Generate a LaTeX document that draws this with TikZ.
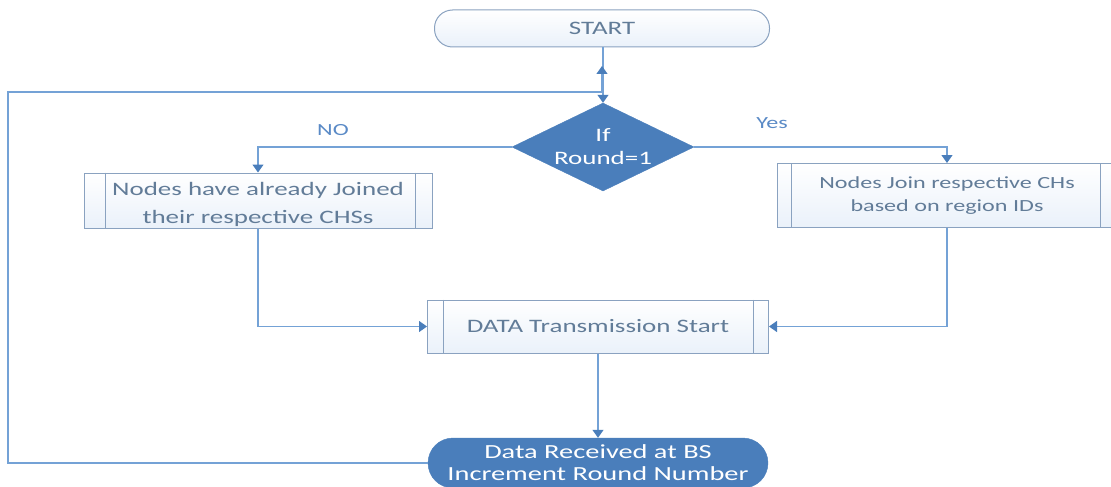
\documentclass[tikz,border=0pt]{standalone}
\usepackage{fontspec}
\setmainfont{Carlito}[FakeStretch=1.42]
\usetikzlibrary{shapes.geometric,arrows.meta}
\definecolor{lineblue}{HTML}{74A2D6}
\definecolor{tipblue}{HTML}{4A7EBB}
\definecolor{fillblue}{HTML}{4A7EBB}
\definecolor{boxborder}{HTML}{8AA2C0}
\definecolor{boxtext}{HTML}{627C98}
\definecolor{labelblue}{HTML}{5A8AC6}
\definecolor{boxbottom}{HTML}{EAF1FA}
\begin{document}
\begin{tikzpicture}[x=1pt,y=-1pt,
  conn/.style={draw=lineblue, line width=1.2pt, -{Triangle[width=11pt,length=8pt,color=tipblue]}},
  procbox/.style={draw=boxborder, line width=1pt, top color=white, bottom color=boxbottom,
    font=\fontsize{19}{28}\selectfont, text=boxtext, align=center, inner sep=0pt},
  boxtextstyle/.style={font=\fontsize{19}{28}\selectfont, text=boxtext, align=center, inner sep=0pt},
  termlight/.style={draw=boxborder, line width=1pt, rounded corners=18pt, top color=white, bottom color=boxbottom,
    font=\fontsize{19}{24}\selectfont, text=boxtext, align=center, inner sep=0pt},
  termdark/.style={draw=fillblue, fill=fillblue, rounded corners=25pt, text=white,
    font=\fontsize{20}{22}\selectfont, align=center, inner sep=0pt},
  decision/.style={diamond, draw=fillblue, fill=fillblue, inner sep=0pt, minimum width=182pt, minimum height=88pt, aspect=2.07},
  branchlabel/.style={font=\fontsize{17}{20}\selectfont, text=labelblue, inner sep=0pt}
]
\useasboundingbox (0,0) rectangle (1111,487);

\node[termlight, minimum width=335pt, minimum height=37pt] (start) at (602,28.5) {START};
\node[decision, label={[font=\fontsize{19}{23}\selectfont, text=white, align=center]center:If\\Round=1}] (dec) at (603,147) {};
\node[procbox, minimum width=348pt, minimum height=55pt,
  label={[boxtextstyle, yshift=-4pt]center:Nodes have already Joined\\their respective CHSs}] (n1) at (258,200.5) {};
\node[procbox, minimum width=340pt, minimum height=64pt, font=\fontsize{17}{23}\selectfont] (n2) at (947,195.5) {Nodes Join respective CHs\\based on region IDs};
\node[procbox, minimum width=341pt, minimum height=53pt] (data) at (598,326.5) {DATA Transmission Start};
\node[termdark, minimum width=340pt, minimum height=50pt] (recv) at (598,463) {Data Received at BS\\Increment Round Number};

\foreach \n/\a/\b in {n1/22/17, n2/15/17, data/16/16} {
  \draw[boxborder, line width=1pt] ([xshift=\a pt]\n.north west) -- ([xshift=\a pt]\n.south west);
  \draw[boxborder, line width=1pt] ([xshift=-\b pt]\n.north east) -- ([xshift=-\b pt]\n.south east);
}

\node[branchlabel] (no) at (333,130) {NO};
\node[branchlabel] (yes) at (772,123) {Yes};

\coordinate (loopL) at (8,463);
\coordinate (loopT) at (8,92);
\coordinate (loopJ) at (602,92);
\coordinate (loopE) at (602,66);

\draw[conn] (start.south -| dec.north) -- (dec.north);
\draw[conn] (dec.west) -| (n1.north);
\draw[conn] (dec.east) -| (n2.north);
\draw[conn] (n1.south) |- (data.west);
\draw[conn] (n2.south) |- (data.east);
\draw[conn] (data.south) -- (recv.north);
\draw[conn] (recv.west) -- (loopL) -- (loopT) -- (loopJ) -- (loopE);
\end{tikzpicture}
\end{document}
